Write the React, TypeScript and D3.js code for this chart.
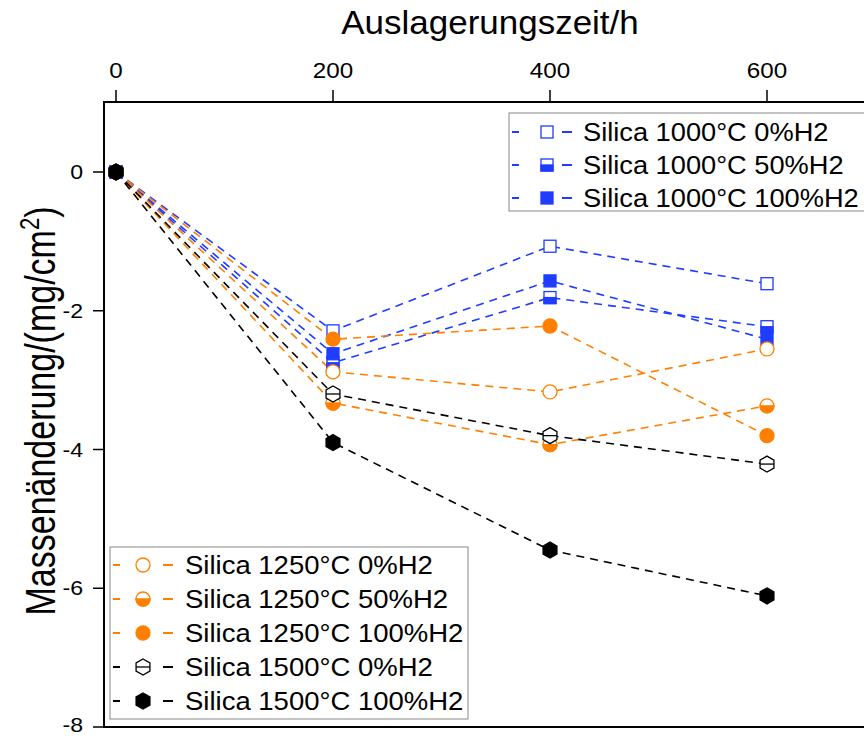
import React from "react";
import * as d3 from "d3";

const times = [0, 200, 400, 600];
const xTicks = [0, 200, 400, 600];
const yTicks = [0, -2, -4, -6, -8];

const labels = [
  "Silica 1000°C 0%H2",
  "Silica 1000°C 50%H2",
  "Silica 1000°C 100%H2",
  "Silica 1250°C 0%H2",
  "Silica 1250°C 50%H2",
  "Silica 1250°C 100%H2",
  "Silica 1500°C 0%H2",
  "Silica 1500°C 100%H2",
];
const b0 = [0, -2.29, -1.07, -1.61];
const b50 = [0, -2.75, -1.81, -2.23];
const b100 = [0, -2.62, -1.57, -2.41];
const o0 = [0, -2.88, -3.17, -2.55];
const o50 = [0, -3.33, -3.93, -3.37];
const o100 = [0, -2.41, -2.22, -3.8];
const k0 = [0, -3.2, -3.8, -4.21];
const k100 = [0, -3.9, -5.45, -6.11];

const BLUE = "#1f3cff";
const ORANGE = "#ff8000";
const BLACK = "#000000";

type Kind = "sqOpen" | "sqHalf" | "sqFull" | "cOpen" | "cHalf" | "cFull" | "hHalf" | "hFull";

const series: { label: string; values: number[]; color: string; kind: Kind }[] = [
  { label: labels[0], values: b0, color: BLUE, kind: "sqOpen" },
  { label: labels[1], values: b50, color: BLUE, kind: "sqHalf" },
  { label: labels[2], values: b100, color: BLUE, kind: "sqFull" },
  { label: labels[3], values: o0, color: ORANGE, kind: "cOpen" },
  { label: labels[4], values: o50, color: ORANGE, kind: "cHalf" },
  { label: labels[5], values: o100, color: ORANGE, kind: "cFull" },
  { label: labels[6], values: k0, color: BLACK, kind: "hHalf" },
  { label: labels[7], values: k100, color: BLACK, kind: "hFull" },
];

const FONT = "'Liberation Sans', Arial, sans-serif";

function hexPts(r: number) {
  const pts: string[] = [];
  for (let i = 0; i < 6; i++) {
    const a = (Math.PI / 3) * i - Math.PI / 2;
    pts.push(`${(r * Math.cos(a)).toFixed(2)},${(r * Math.sin(a)).toFixed(2)}`);
  }
  return pts.join(" ");
}

function Marker({ x, y, kind, color }: { x: number; y: number; kind: Kind; color: string }) {
  const s = 12;
  const r = 7;
  const hr = 8;
  const sw = 1.3;
  if (kind.startsWith("sq")) {
    return (
      <g transform={`translate(${x},${y})`}>
        <rect x={-s / 2} y={-s / 2} width={s} height={s} fill={kind === "sqFull" ? color : "#fff"} stroke={color} strokeWidth={sw} />
        {kind === "sqHalf" && <rect x={-s / 2} y={0} width={s} height={s / 2} fill={color} stroke={color} strokeWidth={sw} />}
      </g>
    );
  }
  if (kind.startsWith("c")) {
    return (
      <g transform={`translate(${x},${y})`}>
        <circle r={r} fill={kind === "cFull" ? color : "#fff"} stroke={color} strokeWidth={sw} />
        {kind === "cHalf" && <path d={`M${-r},0 A${r},${r} 0 0 0 ${r},0 Z`} fill={color} stroke={color} strokeWidth={sw} />}
      </g>
    );
  }
  return (
    <g transform={`translate(${x},${y})`}>
      <polygon points={hexPts(hr)} fill={kind === "hFull" ? color : "#fff"} stroke={color} strokeWidth={sw} />
      {kind === "hHalf" && <line x1={-hr * 0.866} x2={hr * 0.866} y1={0} y2={0} stroke={color} strokeWidth={sw} />}
    </g>
  );
}

function SText({ x, y, sx, size, anchor, children }: { x: number; y: number; sx: number; size: number; anchor?: string; children: any }) {
  return (
    <text transform={`translate(${x},${y}) scale(${sx},1)`} fontSize={size} textAnchor={anchor || "start"}>
      {children}
    </text>
  );
}

export default function App() {
  const W = 864;
  const H = 736;
  const left = 104;
  const top = 102;
  const bottom = 727;
  const right = 872;
  const x = d3.scaleLinear().domain([0, 600]).range([116, 767]);
  const y = d3.scaleLinear().domain([0, -8]).range([172, 727]);
  const line = d3
    .line<number>()
    .x((_, i) => x(times[i]))
    .y((d) => y(d));

  const legendTop = series.slice(0, 3);
  const legendBot = series.slice(3);

  return (
    <svg width={W} height={H} style={{ position: "absolute", left: 0, top: 0, background: "#fff" }} fontFamily={FONT}>
      <rect width={W} height={H} fill="#fff" />
      {series.map((s, i) => (
        <path key={"l" + i} d={line(s.values) || ""} fill="none" stroke={s.color} strokeWidth={1.6} strokeDasharray="8,6" />
      ))}
      {series.map((s, i) => (
        <g key={"m" + i}>
          {s.values.map((v, j) => (
            <Marker key={j} x={x(times[j])} y={y(v)} kind={s.kind} color={s.color} />
          ))}
        </g>
      ))}
      <path d={`M${right},${top} H${left} V${bottom} H${right}`} fill="none" stroke="#000" strokeWidth={2} />
      {xTicks.map((t) => (
        <g key={"xt" + t}>
          <line x1={x(t)} x2={x(t)} y1={top} y2={top - 12} stroke="#000" strokeWidth={1.5} />
          <SText x={x(t)} y={78} sx={1.1} size={22} anchor="middle">
            {t}
          </SText>
        </g>
      ))}
      <SText x={490} y={34} sx={1.06} size={33} anchor="middle">
        Auslagerungszeit/h
      </SText>
      {yTicks.map((t) => (
        <g key={"yt" + t}>
          <line x1={left} x2={left - 11} y1={y(t)} y2={y(t)} stroke="#000" strokeWidth={1.5} />
          <SText x={83} y={Math.min(y(t) + 7, 732)} sx={1.1} size={21} anchor="end">
            {t}
          </SText>
        </g>
      ))}
      <text transform={`translate(55,411) rotate(-90) scale(1,1.25)`} textAnchor="middle" fontSize={34}>
        Massenänderung/(mg/cm
        <tspan fontSize={22} dy={-13}>
          2
        </tspan>
        <tspan dy={13}>)</tspan>
      </text>
      <rect x={509} y={113} width={370} height={98} fill="#fff" stroke="#888" strokeWidth={1} />
      {legendTop.map((s, i) => {
        const cy = 132 + i * 33;
        return (
          <g key={"lt" + i}>
            <line x1={512} x2={519} y1={cy} y2={cy} stroke={s.color} strokeWidth={2} />
            <line x1={562} x2={572} y1={cy} y2={cy} stroke={s.color} strokeWidth={2} />
            <Marker x={547} y={cy} kind={s.kind} color={s.color} />
            <SText x={583} y={cy + 9} sx={1.09} size={25}>
              {s.label}
            </SText>
          </g>
        );
      })}
      <rect x={110} y={547} width={358} height={172} fill="#fff" stroke="#888" strokeWidth={1} />
      {legendBot.map((s, i) => {
        const cy = 565 + i * 34;
        return (
          <g key={"lb" + i}>
            <line x1={113} x2={120} y1={cy} y2={cy} stroke={s.color} strokeWidth={2} />
            <line x1={163} x2={173} y1={cy} y2={cy} stroke={s.color} strokeWidth={2} />
            <Marker x={143} y={cy} kind={s.kind} color={s.color} />
            <SText x={185} y={cy + 9} sx={1.1} size={25}>
              {s.label}
            </SText>
          </g>
        );
      })}
    </svg>
  );
}
